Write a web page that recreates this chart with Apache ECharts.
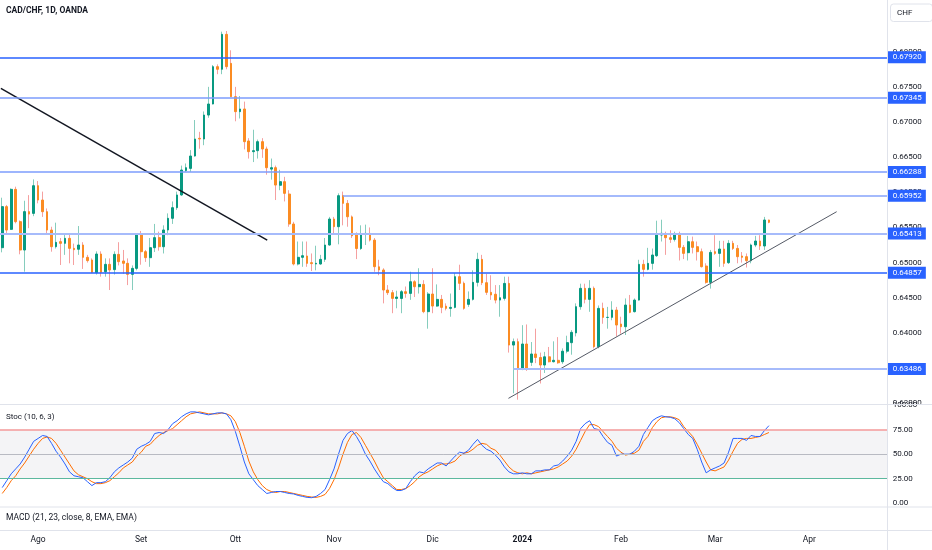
<!DOCTYPE html>
<html><head><meta charset="utf-8">
<script src="https://cdn.jsdelivr.net/npm/echarts@6/dist/echarts.min.js"></script>
<style>html,body{margin:0;padding:0;background:#fff}#c{width:932px;height:550px}</style>
</head><body><div id="c"></div>
<script>
const opens = [
.65212,.65796,.65473,.66042,.65582,.65179,.65725,.65700,.66094,.6589,
.65724,.65463,.65226,.65298,.65274,.65345,.65203,.6519,.6525,.65075,
.65037,.64857,.65122,.6487,.64975,.6490,.65117,.65023,.6499,.64833,
.64918,.65402,.65155,.6507,.65212,.65355,.65226,.65464,.6563,.65781,
.65962,.6631,.6634,.66516,.66768,.66758,.67099,.67256,.67787,.6775,
.68247,.67834,.6736,.67147,.67185,.6673,.66578,.66592,.6672,.66616,
.6633,.6635,.661,.66151,.65975,.65549,.6498,.65075,.65094,.64999,
.6498,.6498,.65046,.6525,.6562,.65511,.65952,.65843,.6565,.654,
.652,.654,.65415,.6532,.6494,.64895,.6461,.64572,.6449,.6449,
.64586,.64562,.64728,.64657,.6469,.64302,.64553,.64382,.64477,.6438,
.64349,.64363,.648,.64705,.64406,.64477,.64719,.65046,.64714,.64577,
.6455,.64467,.64491,.64704,.63827,.63875,.63486,.63842,.63581,.637,
.6365,.63543,.6366,.6359,.6361,.6359,.6374,.63861,.64,.64373,
.64634,.64477,.64634,.63804,.64349,.6422,.64221,.64325,.64126,.64088,
.64396,.64302,.64467,.64975,.64904,.64989,.65098,.65392,.65406,.65354,
.6533,.65401,.65217,.65141,.65297,.65226,.65155,.64951,.64719,.65155,
.65131,.65193,.64999,.65274,.65202,.65094,.65084,.65027,.6525,.65307,
.65236,.65606];
const highs = [
.65923,.6582,.66056,.6608,.6560,.6588,.6596,.66184,.6616,.6601,
.6577,.6551,.65568,.6535,.65415,.6541,.6527,.6552,.6529,.6511,
.6506,.6516,.6516,.6506,.6506,.6516,.6529,.6518,.6506,.6496,
.6542,.6545,.6518,.6535,.6555,.6544,.6553,.6570,.6587,.6601,
.6638,.6641,.6660,.67028,.6686,.6715,.6750,.6781,.6782,.68285,
.68294,.6802,.6750,.6737,.6729,.6677,.6689,.6675,.6677,.6665,
.6648,.6638,.6632,.6622,.6603,.6558,.6530,.6530,.6530,.6513,
.6524,.6511,.6535,.6565,.6565,.65985,.6601,.6589,.6567,.6543,
.6553,.6554,.6550,.6535,.6504,.6492,.6468,.6461,.6460,.6461,
.6466,.6487,.6475,.6492,.6475,.6458,.6492,.6469,.6454,.6442,
.6456,.6485,.6497,.6473,.6459,.6489,.6514,.6511,.6484,.6482,
.6468,.6468,.6480,.6480,.6392,.6392,.6411,.6412,.6387,.6406,
.6372,.6373,.6380,.6388,.6394,.6378,.6396,.6404,.6442,.6470,
.6470,.6475,.6466,.6439,.6443,.6437,.6445,.6437,.6423,.6449,
.6454,.6449,.6504,.6504,.6521,.6520,.65596,.6561,.6544,.6546,
.6544,.6544,.6525,.6538,.6537,.6530,.6520,.6499,.6518,.6539,
.6531,.6531,.6532,.6531,.6525,.6515,.6513,.6527,.6538,.6539,
.6565,.6561];
const lows = [
.65146,.6541,.65464,.65558,.65118,.64871,.6549,.6566,.65843,.6565,
.65416,.65155,.6520,.64966,.6511,.6499,.64966,.6511,.6491,.6500,
.6485,.6483,.6480,.6480,.6461,.6483,.6496,.6484,.6468,.6461,
.6489,.6497,.6501,.6494,.6515,.6517,.6513,.6539,.6555,.6575,
.6595,.6629,.6629,.66507,.6662,.6667,.6706,.6725,.6768,.6768,
.6775,.6736,.6701,.6705,.6661,.6648,.6643,.6648,.6649,.6625,
.6618,.6589,.6603,.6587,.6551,.6496,.6496,.6494,.6494,.6488,
.6489,.6497,.6501,.6524,.6542,.6526,.6553,.6551,.6535,.6505,
.6518,.6525,.6530,.6487,.6482,.6442,.64539,.6428,.6435,.6428,
.6450,.6447,.6451,.6456,.6428,.6406,.6428,.6437,.6428,.6432,
.6423,.6435,.6461,.6433,.6437,.6446,.6466,.6468,.6454,.6447,
.6442,.6423,.6446,.6372,.6314,.6305,.6347,.6346,.6353,.6357,
.6328,.6343,.6358,.6358,.6356,.6356,.6371,.6369,.6395,.6433,
.6442,.6430,.6378,.6378,.6413,.6406,.6418,.6395,.6399,.6397,
.6428,.6429,.6446,.6480,.6489,.6490,.6508,.6530,.6511,.6528,
.6530,.6503,.6505,.6503,.6513,.6503,.6493,.6470,.6463,.6511,
.6494,.6494,.6498,.6518,.6499,.6500,.6493,.6499,.6522,.6518,
.6518,.6556];
const closes = [
.65796,.65463,.66042,.65582,.65179,.65725,.65690,.66094,.65890,.65724,
.65463,.65226,.65288,.65274,.65345,.65203,.65184,.6525,.65075,.65028,
.64861,.65122,.64861,.64975,.64895,.65117,.65013,.6499,.64833,.64918,
.65402,.65155,.6507,.65212,.65355,.65226,.65464,.6563,.65781,.65962,
.66317,.6635,.66516,.66758,.66758,.67099,.67256,.67787,.6775,.68247,
.67787,.6736,.67147,.67185,.6672,.66578,.66592,.6672,.66616,.6635,
.6635,.66103,.66151,.65985,.65549,.6498,.65075,.65098,.64989,.64985,
.6499,.65046,.6525,.6562,.65511,.65952,.65843,.65652,.65382,.652,
.654,.65415,.6532,.64942,.64895,.6461,.64572,.64491,.6451,.64586,
.64562,.64728,.64657,.6469,.64302,.64553,.64382,.64477,.64363,.64349,
.64363,.648,.64705,.64349,.64477,.64719,.65046,.64714,.64577,.64539,
.64467,.645,.64704,.63827,.63875,.63486,.63842,.63486,.637,.6365,
.63543,.6366,.6359,.6361,.63575,.6374,.63861,.64008,.64373,.64634,
.64477,.64634,.63804,.64349,.64221,.64221,.64325,.64112,.64088,.64396,
.64292,.64467,.64975,.64904,.64989,.65108,.65392,.65416,.65354,.6533,
.65401,.65217,.65131,.65297,.65217,.65155,.64942,.64719,.65145,.65131,
.65193,.64989,.65274,.65202,.65084,.65075,.65027,.6525,.65307,.65236,
.65606,.65573];
const stochK = [
16,23,30,35,40,47,55,63,66,69,
68,61,53,47,40,32,28,27,26,22,
18,21,21,22,26,32,36,39,42,46,
55,58,60,63,71,72,71,75,81,84,
88,91,93,93,92,91,90,91,92,92,
91,85,73,58,42,30,24,18,14,10,
11,12,12,11,10,9.5,8,7,6,5.7,
7,10,14,24,35,50,64,71,74,68,
60,50,43,35,28,22,20,16,13,13,
15,22,28,32,31,35,38,41,41,38,
43,48,52,51,54,60,65,59,55,53,
49,44,37,32,30,30,31,30,30,33,
33,34,34,38,39,43,48,54,63,76,
81,84,76,75,68,62,59,48,50,50,
50,53,58,70,77,84,87,89,88,87.5,
86,82,76,70,66,55,42,31,34,36,
38,41,52,66,66,66,64,69,68,68,
74,79];
const stochD = [
10,16,23,28,35,41,48,55,61,66,
67.5,66,61,54,47,40,33,29,27,25,
22,20,20,21,23,27,31,36,39,42,
48,52,58,60,65,69,72,74,76,80,
84,88,91,92,93,92,91,91,91,92,
91,89,83,72,58,43,32,24,18,14,
12,11,12,12,11,10,9,8,7,6.4,
6,7,9,15,24,36,50,62,70,72,
67,59,51,43,34,26,22,18,14,14,
15,18,22,27,30,32,35,38,40,40,
41,43,48,51,52,55,59,61,60,56,
54,49,43,37,33,31,30,31,30,31,
32,33,34,35,37,40,43,48,55,64,
73,80,80,78,73,68,63,56,52,49,
50,51,54,63,68,77,83,87,88,88,
87,85,78,73,68,60,51,42,34,33,
35,37,44,53,61,65,66,66,67,68,
70,72];
const levelValues = [0.67920, 0.67345, 0.66288, 0.65952, 0.65413, 0.64857, 0.63486];
const levelStartDates = [null, null, null, '2023-11-03', null, null, '2023-12-28'];
const trendDown = [[-0.31, 0.67479], [59.1, 0.65321]];
const trendUp = [[112.9, 0.63069], [186.1, 0.65724]];
const monthLabels = [['2023-08-01','Ago'],['2023-09-01','Set'],['2023-10-02','Ott'],['2023-11-01','Nov'],['2023-12-01','Dic'],['2024-01-02','2024'],['2024-02-01','Feb'],['2024-03-01','Mar'],['2024-04-01','Apr']];
const stochLevels = [75, 50, 25];
const holidays = ['2023-12-25', '2024-01-01'];

const categories = [];
(function () {
  const d = new Date(Date.UTC(2023, 6, 20));
  while (categories.length < 198) {
    const wd = d.getUTCDay();
    const s = d.toISOString().slice(0, 10);
    if (wd !== 0 && wd !== 6 && holidays.indexOf(s) < 0) categories.push(s);
    d.setUTCDate(d.getUTCDate() + 1);
  }
})();
const labelMap = {};
monthLabels.forEach(m => { labelMap[m[0]] = m[1]; });

const wickData = opens.map((o, i) => {
  const c = closes[i];
  return [o, c, Math.min(lows[i], o, c), Math.max(highs[i], o, c)];
});
const bodyData = opens.map((o, i) => {
  const c = closes[i];
  return [o, c, Math.min(o, c), Math.max(o, c)];
});

const BLUE = '#2962ff';
const levelStyle = [
  {color: '#2962ff', width: 1.5},
  {color: '#7c9cfc', width: 1.5},
  {color: '#7c9cfc', width: 1.5},
  {color: '#86a3fb', width: 1.5},
  {color: '#a6bbfb', width: 2},
  {color: '#2962ff', width: 1.5},
  {color: '#a6bbfb', width: 2}
];
const badge = v => ({
  show: true, position: 'end', distance: 0, formatter: v.toFixed(5),
  backgroundColor: BLUE, color: '#fff', fontSize: 8, fontFamily: 'Roboto',
  padding: [2, 4, 2, 5]
});
const fullLines = [], partialLines = [];
levelValues.forEach((v, k) => {
  const ls = Object.assign({type: 'solid'}, levelStyle[k]);
  if (levelStartDates[k] === null) {
    fullLines.push({yAxis: v, lineStyle: ls, label: badge(v)});
  } else {
    const si = categories.indexOf(levelStartDates[k]);
    partialLines.push([{coord: [si, v], lineStyle: ls, label: badge(v)}, {coord: [197.5, v]}]);
  }
});

const FONT = 'Roboto';
const TXT = '#131722';
const chart = echarts.init(document.getElementById('c'));
chart.setOption({
  animation: false,
  backgroundColor: '#ffffff',
  textStyle: {fontFamily: FONT},
  grid: [
    {left: -0.844, top: 0, width: 888.6, height: 403.2},
    {left: -0.844, top: 405, width: 888.6, height: 98.3}
  ],
  xAxis: [
    {type: 'category', gridIndex: 0, data: categories, axisLine: {show: false}, axisTick: {show: false}, axisLabel: {show: false}, splitLine: {show: false}},
    {type: 'category', gridIndex: 1, data: categories, axisLine: {show: false}, axisTick: {show: false}, splitLine: {show: false},
      axisLabel: {
        interval: (i, v) => labelMap[v] !== undefined,
        formatter: v => /^\d{4}$/.test(labelMap[v]) ? '{b|' + labelMap[v] + '}' : labelMap[v],
        margin: 32, color: TXT, fontSize: 8.5, fontFamily: FONT,
        rich: {b: {fontWeight: 'bold', fontSize: 8.5, color: TXT, fontFamily: FONT}}
      }},
    {type: 'value', gridIndex: 0, min: -0.5, max: 197.5, show: false}
  ],
  yAxis: [
    {type: 'value', gridIndex: 0, position: 'right', min: 0.63, max: 0.687354, interval: 0.005,
      axisLine: {show: false}, axisTick: {show: false}, splitLine: {show: false},
      axisLabel: {showMaxLabel: false, formatter: v => v.toFixed(5), margin: 5, color: TXT, fontSize: 8, fontFamily: FONT}},
    {type: 'value', gridIndex: 1, position: 'right', min: 0, max: 100, interval: 25,
      axisLine: {show: false}, axisTick: {show: false}, splitLine: {show: false},
      axisLabel: {formatter: v => v.toFixed(2), margin: 5, color: TXT, fontSize: 8, fontFamily: FONT}}
  ],
  series: [
    {type: 'candlestick', name: 'wick', xAxisIndex: 0, yAxisIndex: 0, data: wickData, barWidth: 1, z: 2,
      itemStyle: {color: '#86cdbd', color0: '#f5a0a0', borderColor: '#86cdbd', borderColor0: '#f5a0a0', borderWidth: 1}},
    {type: 'candlestick', name: 'body', xAxisIndex: 0, yAxisIndex: 0, data: bodyData, barWidth: 2.2, z: 3,
      itemStyle: {color: '#089981', color0: '#fb8c23', borderColor: '#089981', borderColor0: '#fb8c23', borderWidth: 1},
      markLine: {symbol: 'none', silent: true, animation: false, precision: 5, data: fullLines}},
    {type: 'line', name: 'trendDown', xAxisIndex: 2, yAxisIndex: 0, data: trendDown, symbol: 'none', z: 4,
      lineStyle: {color: '#131722', width: 1.5},
      markLine: {symbol: 'none', silent: true, animation: false, precision: 5, data: partialLines}},
    {type: 'line', name: 'trendUp', xAxisIndex: 2, yAxisIndex: 0, data: trendUp, symbol: 'none', z: 4,
      lineStyle: {color: '#555a66', width: 1}},
    {type: 'line', name: 'bands', xAxisIndex: 1, yAxisIndex: 1, data: [], z: 1,
      markArea: {silent: true, itemStyle: {color: '#f4f4f6'}, data: [[{yAxis: 25}, {yAxis: 75}]]},
      markLine: {symbol: 'none', silent: true, animation: false, precision: 2, label: {show: false},
        data: [
          {yAxis: stochLevels[0], lineStyle: {color: '#f49a9a', width: 1.5, type: 'solid'}},
          {yAxis: stochLevels[1], lineStyle: {color: '#b8bac2', width: 1, type: 'solid'}},
          {yAxis: stochLevels[2], lineStyle: {color: '#5cb89e', width: 1.2, type: 'solid'}}
        ]}},
    {type: 'line', name: '%D', xAxisIndex: 1, yAxisIndex: 1, data: stochD, symbol: 'none', z: 3,
      lineStyle: {color: '#ff6d00', width: 1}},
    {type: 'line', name: '%K', xAxisIndex: 1, yAxisIndex: 1, data: stochK, symbol: 'none', z: 4,
      lineStyle: {color: '#2962ff', width: 1}}
  ],
  graphic: [
    {type: 'line', z: 50, shape: {x1: 0, y1: 404.5, x2: 932, y2: 404.5}, style: {stroke: '#e0e3eb', lineWidth: 1}},
    {type: 'line', z: 50, shape: {x1: 0, y1: 507, x2: 932, y2: 507}, style: {stroke: '#e0e3eb', lineWidth: 1}},
    {type: 'line', z: 50, shape: {x1: 0, y1: 530.5, x2: 932, y2: 530.5}, style: {stroke: '#e0e3eb', lineWidth: 1}},
    {type: 'line', z: 50, shape: {x1: 887.5, y1: 0, x2: 887.5, y2: 550}, style: {stroke: '#e0e3eb', lineWidth: 1}},
    {type: 'text', z: 100, x: 6, y: 11, style: {text: 'CAD/CHF, 1D, OANDA', fill: TXT, font: 'bold 8.5px Roboto', textVerticalAlign: 'middle'}},
    {type: 'text', z: 100, x: 6, y: 416.7, style: {text: 'Stoc (10, 6, 3)', fill: TXT, font: '8px Roboto', textVerticalAlign: 'middle'}},
    {type: 'text', z: 100, x: 6, y: 518.3, style: {text: 'MACD (21, 23, close, 8, EMA, EMA)', fill: TXT, font: '8.5px Roboto', textVerticalAlign: 'middle'}},
    {type: 'rect', z: 100, shape: {x: 890.5, y: 4, width: 42, height: 17.5, r: 3}, style: {fill: '#fff', stroke: '#e0e3eb', lineWidth: 1}},
    {type: 'text', z: 101, x: 897, y: 12.8, style: {text: 'CHF', fill: TXT, font: '8px Roboto', textVerticalAlign: 'middle'}}
  ]
});
</script>
</body></html>
